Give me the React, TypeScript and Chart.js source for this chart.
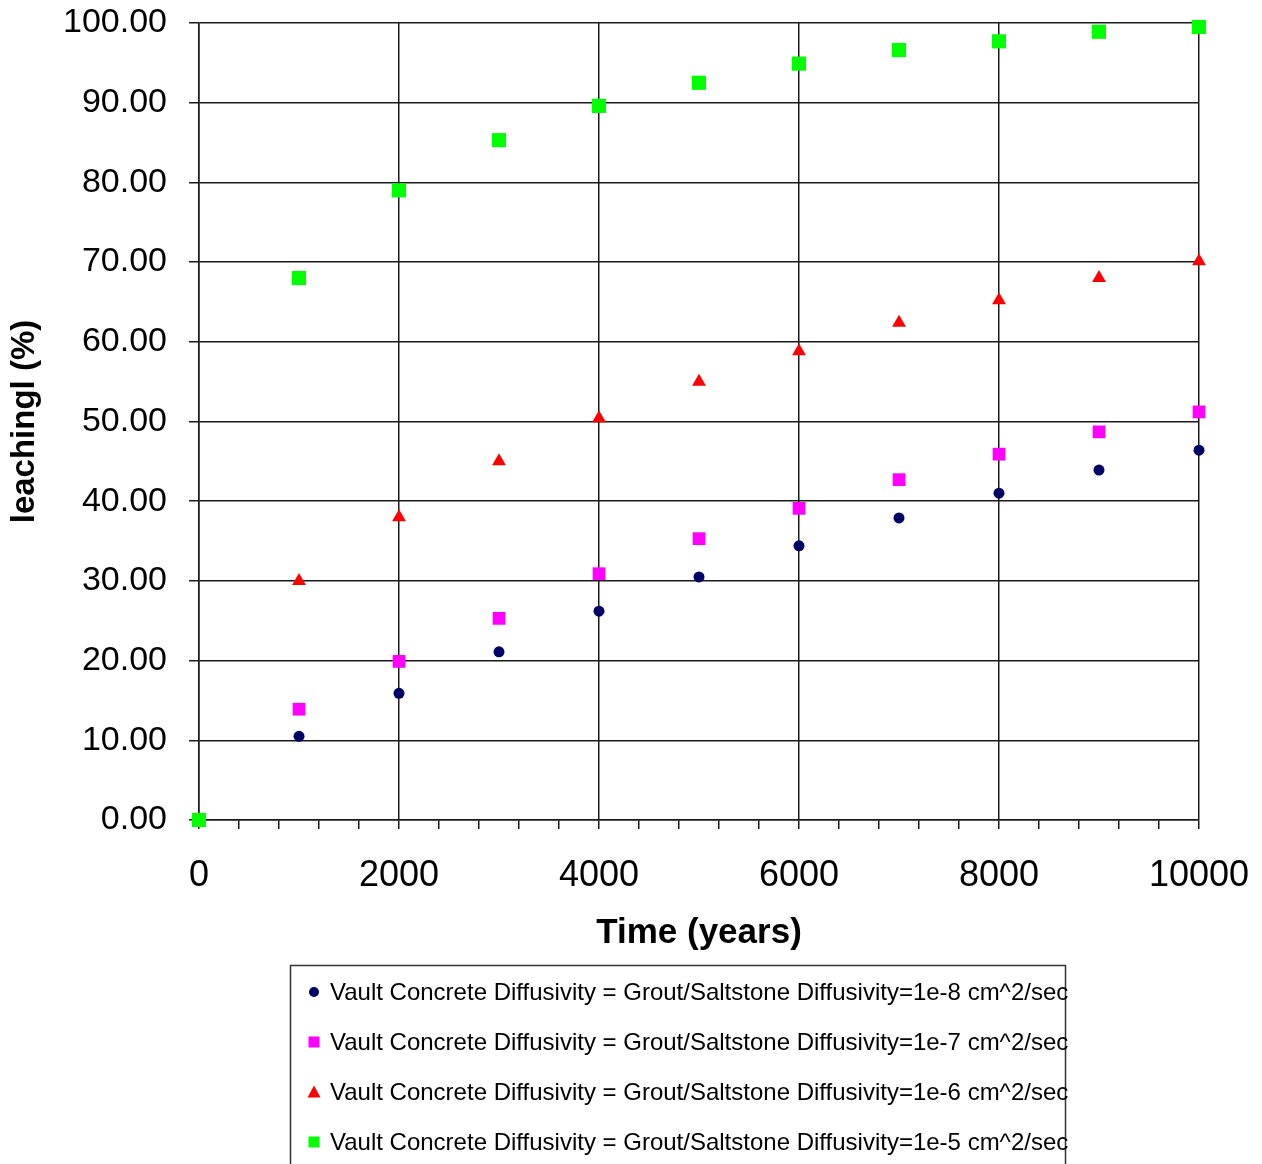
import React, { useEffect, useRef } from 'react';
import { Chart, registerables } from 'chart.js';

Chart.register(...registerables);

const years = [0, 1000, 2000, 3000, 4000, 5000, 6000, 7000, 8000, 9000, 10000];
const seriesLabels = [
  'Vault Concrete Diffusivity = Grout/Saltstone Diffusivity=1e-8 cm^2/sec',
  'Vault Concrete Diffusivity = Grout/Saltstone Diffusivity=1e-7 cm^2/sec',
  'Vault Concrete Diffusivity = Grout/Saltstone Diffusivity=1e-6 cm^2/sec',
  'Vault Concrete Diffusivity = Grout/Saltstone Diffusivity=1e-5 cm^2/sec',
];
const navyVals = [0, 10.5, 15.9, 21.1, 26.2, 30.5, 34.4, 37.9, 41.0, 43.9, 46.4];
const magentaVals = [0, 13.9, 19.9, 25.3, 30.9, 35.3, 39.1, 42.7, 45.9, 48.7, 51.2];
const redVals = [0, 30.0, 38.0, 45.0, 50.4, 55.0, 58.8, 62.4, 65.2, 68.0, 70.1];
const greenVals = [0, 68.0, 79.0, 85.3, 89.6, 92.5, 94.9, 96.6, 97.7, 98.9, 99.5];
const seriesColors = ['#000066', '#ff00ff', '#ff0000', '#00ff00'];
const seriesShapes = ['circle', 'rect', 'triangle', 'rect'];
const seriesRadius = [5.5, 9, 8, 10];
const xTitle = 'Time (years)';
const yTitle = 'leachingl (%)';

const FONT = '"Liberation Sans", Arial, sans-serif';

function drawMarker(ctx: CanvasRenderingContext2D, shape: string, x: number, y: number, s: number, color: string) {
  ctx.fillStyle = color;
  ctx.beginPath();
  if (shape === 'circle') {
    ctx.arc(x, y, s / 2, 0, Math.PI * 2);
  } else if (shape === 'rect') {
    ctx.rect(x - s / 2, y - s / 2, s, s);
  } else {
    ctx.moveTo(x, y - s / 2 - 1);
    ctx.lineTo(x + s / 2 + 1, y + s / 2);
    ctx.lineTo(x - s / 2 - 1, y + s / 2);
    ctx.closePath();
  }
  ctx.fill();
}

const legendBoxPlugin = {
  id: 'legendBox',
  afterDraw(chart: any) {
    const ctx: CanvasRenderingContext2D = chart.ctx;
    ctx.save();
    ctx.strokeStyle = '#333';
    ctx.lineWidth = 1.5;
    ctx.strokeRect(290.5, 965.5, 775, 220);
    ctx.font = `24px ${FONT}`;
    ctx.textBaseline = 'middle';
    ctx.textAlign = 'left';
    seriesLabels.forEach((lab, i) => {
      const y = 992 + i * 50;
      drawMarker(ctx, seriesShapes[i], 314, y, i === 0 ? 10 : 11, seriesColors[i]);
      ctx.fillStyle = '#000';
      ctx.fillText(lab, 330, y + 1);
    });
    ctx.restore();
  },
};

const zeroPad = (s: any) => {
  s.paddingTop = 0;
  s.paddingBottom = 0;
  s.paddingLeft = 0;
  s.paddingRight = 0;
};

export default function App() {
  const ref = useRef<HTMLCanvasElement>(null);
  useEffect(() => {
    if (!ref.current) return;
    const allVals = [navyVals, magentaVals, redVals, greenVals];
    const datasets = allVals.map((vals, i) => ({
      label: seriesLabels[i],
      data: years.map((x, j) => ({ x, y: vals[j] })),
      backgroundColor: seriesColors[i],
      borderColor: seriesColors[i],
      borderWidth: 0,
      pointStyle: seriesShapes[i] as any,
      pointRadius: seriesRadius[i],
      showLine: false,
      clip: false as any,
      order: 3 - i,
    }));
    const chart = new Chart(ref.current, {
      type: 'scatter',
      data: { datasets },
      plugins: [legendBoxPlugin],
      options: {
        animation: false,
        responsive: false,
        devicePixelRatio: 1,
        layout: { padding: { top: 23, right: 63, left: 0, bottom: 0 } },
        plugins: { legend: { display: false }, tooltip: { enabled: false } },
        scales: {
          x: {
            type: 'linear',
            min: 0,
            max: 10000,
            afterFit: (s: any) => { s.height = 344; zeroPad(s); },
            grid: {
              color: (c: any) => (c.tick && c.tick.value % 2000 === 0 ? '#1a1a1a' : 'rgba(0,0,0,0)'),
              tickColor: '#1a1a1a',
              lineWidth: 1.5,
              tickLength: 9,
            },
            border: { color: '#1a1a1a', width: 1.5 },
            ticks: {
              stepSize: 400,
              autoSkip: false,
              maxRotation: 0,
              padding: 25,
              color: '#000',
              font: { family: FONT, size: 36 },
              callback: (v: any) => (Number(v) % 2000 === 0 ? String(v) : ''),
            },
            title: {
              display: true,
              text: xTitle,
              color: '#000',
              font: { family: FONT, size: 35, weight: 'bold' },
              padding: { top: 0, bottom: 210 },
            },
          },
          y: {
            min: 0,
            max: 100,
            afterFit: (s: any) => { s.width = 199; zeroPad(s); },
            grid: { color: '#1a1a1a', lineWidth: 1.5, tickLength: 10 },
            border: { color: '#1a1a1a', width: 1.5 },
            ticks: {
              stepSize: 10,
              padding: 22,
              color: '#000',
              font: { family: FONT, size: 34 },
              callback: (v: any) => Number(v).toFixed(2),
            },
            title: {
              display: true,
              text: yTitle,
              color: '#000',
              font: { family: FONT, size: 33, weight: 'bold' },
              padding: { top: 5, bottom: 0 },
            },
          },
        },
      },
    });
    return () => chart.destroy();
  }, []);
  return (
    <div style={{ position: 'fixed', left: 0, top: 0, width: 1262, height: 1164, background: '#fff' }}>
      <canvas ref={ref} width={1262} height={1164} />
    </div>
  );
}
